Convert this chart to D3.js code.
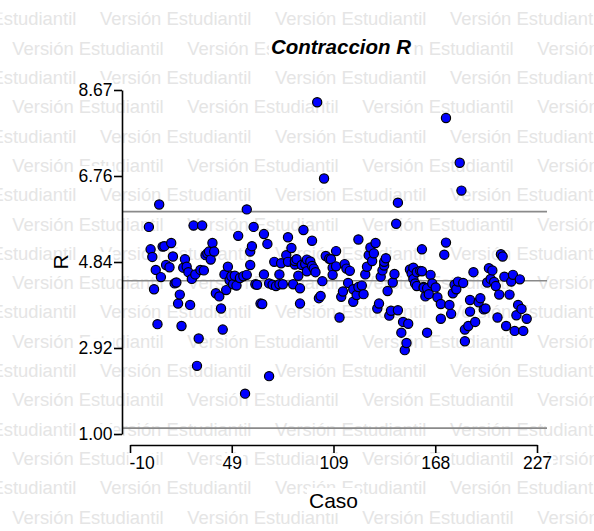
<!DOCTYPE html>
<html>
<head>
<meta charset="utf-8">
<script src="https://cdn.jsdelivr.net/npm/d3@7"></script>
<style>
  body { margin: 0; background: #fff; }
  svg { display: block; }
</style>
</head>
<body>
<svg id="chart" width="594" height="531"></svg>
<script>
// Case number for each observation
const caso = [1,2,3,4,5,6,7,8,9,10,
  11,13,14,15,16,17,18,19,20,21,
  22,23,24,25,26,27,28,29,30,31,
  32,33,34,35,36,37,38,39,40,42,
  43,44,45,46,47,48,49,50,51,52,
  53,54,56,57,58,58,60,60,61,62,
  63,64,66,67,68,68,70,71,71,73,
  74,75,77,77,78,79,81,82,82,84,
  85,86,86,87,88,89,89,90,91,92,
  93,93,95,96,96,97,98,99,100,101,
  102,103,104,106,107,108,108,110,110,112,
  113,114,115,116,117,118,120,120,122,123,
  123,125,126,127,128,129,130,131,132,133,
  134,135,136,137,138,138,139,140,141,142,
  143,144,145,146,146,148,149,150,151,152,
  153,154,155,155,156,157,157,159,160,160,
  161,161,162,163,163,164,165,166,168,169,
  171,171,173,174,174,176,177,178,179,180,
  181,182,183,184,185,185,187,188,188,190,
  191,193,194,196,197,198,199,200,201,202,
  203,204,205,206,207,208,209,211,212,213,
  214,215,216,217,218,219,221];

// R value for each observation
const r = [5.62,5.12,4.95,4.23,4.66,3.45,6.12,4.50,5.18,5.19,
  4.77,4.72,5.26,4.96,4.36,4.38,3.91,4.11,3.41,4.71,
  4.90,4.73,4.61,3.88,4.46,5.65,4.56,2.52,3.13,4.66,
  5.65,4.65,4.99,5.03,5.07,4.89,5.26,5.07,4.14,4.07,
  3.80,3.33,4.56,4.21,4.73,4.43,4.52,4.34,4.53,4.31,
  5.42,4.48,4.52,1.90,4.55,6.01,4.77,5.07,5.19,5.62,
  4.34,4.33,3.91,3.90,4.56,5.46,5.24,2.29,4.36,4.33,
  4.84,4.30,4.34,4.56,4.81,4.34,4.99,5.39,4.84,5.15,
  4.34,4.78,4.86,4.90,4.53,3.91,4.25,4.77,5.55,4.79,
  4.63,4.89,4.85,5.31,4.75,4.69,4.61,8.40,4.03,4.08,
  4.41,6.70,4.97,4.91,4.90,4.71,4.55,5.08,4.74,3.60,
  4.06,4.18,4.79,4.69,4.37,4.64,4.23,3.95,4.10,5.34,
  4.28,4.31,4.12,4.56,4.73,4.99,5.16,4.86,5.03,5.26,
  3.80,3.91,4.51,4.65,4.76,4.84,4.92,4.19,3.64,3.75,
  4.38,4.57,5.69,3.76,6.16,3.26,3.50,2.87,3.03,3.46,
  4.67,4.58,4.71,4.46,4.36,4.61,4.30,4.64,4.63,5.12,
  4.28,4.26,4.07,4.25,3.26,4.12,4.55,4.36,4.27,4.05,
  3.90,3.57,5.00,5.27,8.05,3.88,3.68,4.14,4.33,4.23,
  4.40,7.05,6.43,4.37,3.33,3.07,3.41,3.99,3.73,4.61,
  3.50,3.94,4.03,3.78,3.80,4.38,4.70,4.46,4.65,4.39,
  4.30,3.60,4.11,5.01,4.96,4.51,3.41,4.11,4.40,4.55,
  3.30,3.65,3.88,4.45,3.79,3.30,3.57];

// Control lines: upper limit, centre line, lower limit
const lineasControl = [5.96, 4.42, 1.13];

// Axis domains and their printed tick labels (4 equal intervals each)
const xDomain = [-10, 227];
const yDomain = [1, 8.674];
const xTickLabels = ["-10", "49", "109", "168", "227"];
const yTickLabels = ["1.00", "2.92", "4.84", "6.76", "8.67"];

const titulo = "Contraccion R";
const tituloX = "Caso";
const tituloY = "R";
const marcaAgua = "Versión Estudiantil";

const W = 594, H = 531;
const FONT = "'Liberation Sans', Arial, Helvetica, sans-serif";

// Plot frame
const plot = { left: 122, right: 547, top: 90, bottom: 434, xAxisY: 445, xStart: 130, xEnd: 537 };

const svg = d3.select("#chart");
svg.append("rect").attr("width", W).attr("height", H).attr("fill", "#fff");

// Repeating watermark, brick-offset rows
const wm = svg.append("g")
  .attr("fill", "#e5e5e5")
  .style("font-family", FONT)
  .style("font-size", "18.4px");
const rowH = 29.3, period = 175;
for (let i = 0; i < 19; i++) {
  const yc = 18.8 + i * rowH;
  const start = (i % 2 === 0) ? 100 : 12.3;
  for (let x = start - period; x < W; x += period) {
    wm.append("text").attr("x", x).attr("y", yc + 6.6).text(marcaAgua);
  }
}

const x = d3.scaleLinear().domain(xDomain).range([plot.xStart, plot.xEnd]);
const y = d3.scaleLinear().domain(yDomain).range([plot.bottom, plot.top]);

const splits = n => d3.range(n).map(k => k / (n - 1));
const xTicks = splits(xTickLabels.length).map(t => xDomain[0] + t * (xDomain[1] - xDomain[0]));
const yTicks = splits(yTickLabels.length).map(t => yDomain[0] + t * (yDomain[1] - yDomain[0]));

// White box behind a text node so the watermark does not show through
function boxBehind(textSel, pad) {
  textSel.each(function () {
    const b = this.getBBox();
    d3.select(this.parentNode).insert("rect", () => this)
      .attr("x", b.x - pad).attr("y", b.y - pad + 1)
      .attr("width", b.width + 2 * pad).attr("height", b.height + 2 * pad - 2)
      .attr("fill", "#fff");
  });
}

// Control lines
svg.append("g").selectAll("line")
  .data(lineasControl)
  .join("line")
  .attr("x1", plot.left).attr("x2", plot.right)
  .attr("y1", d => y(d)).attr("y2", d => y(d))
  .attr("stroke", "#8a8a8a").attr("stroke-width", 1.6);

// Y axis
const gy = svg.append("g")
  .attr("transform", `translate(${plot.left},0)`)
  .call(d3.axisLeft(y).tickValues(yTicks).tickFormat((d, i) => yTickLabels[i])
    .tickSize(8).tickSizeOuter(0).tickPadding(1.5));
// X axis
const gx = svg.append("g")
  .attr("transform", `translate(0,${plot.xAxisY})`)
  .call(d3.axisBottom(x).tickValues(xTicks).tickFormat((d, i) => xTickLabels[i])
    .tickSize(8).tickSizeOuter(0).tickPadding(4));

[gy, gx].forEach(g => {
  g.select(".domain").attr("stroke", "#000").attr("stroke-width", 1.6);
  g.selectAll(".tick line").attr("stroke", "#000").attr("stroke-width", 1.6);
  g.selectAll(".tick text").attr("fill", "#000")
    .style("font-family", FONT).style("font-size", "17.5px");
});
gx.selectAll(".tick text").filter((d, i) => i === 0).attr("text-anchor", "start").attr("x", -1);
boxBehind(gy.selectAll(".tick text"), 1);
boxBehind(gx.selectAll(".tick text"), 1);

// Points
const puntos = caso.map((c, i) => ({ c, v: r[i] }));
svg.append("g").selectAll("circle")
  .data(puntos)
  .join("circle")
  .attr("cx", d => x(d.c))
  .attr("cy", d => y(d.v))
  .attr("r", 4.6)
  .attr("fill", "#0000ff")
  .attr("stroke", "#000")
  .attr("stroke-width", 1.2);

// Titles
const gt = svg.append("g");
const tTitle = gt.append("text")
  .attr("x", 341).attr("y", 54)
  .attr("text-anchor", "middle")
  .style("font-family", FONT).style("font-size", "20.5px")
  .style("font-weight", "bold").style("font-style", "italic")
  .text(titulo);
const tX = gt.append("text")
  .attr("x", (plot.xStart + plot.xEnd) / 2).attr("y", 508)
  .attr("text-anchor", "middle")
  .style("font-family", FONT).style("font-size", "21px")
  .text(tituloX);
const tY = gt.append("text")
  .attr("transform", `translate(60,${(plot.top + plot.bottom) / 2}) rotate(-90)`)
  .attr("text-anchor", "middle")
  .attr("dy", "0.36em")
  .style("font-family", FONT).style("font-size", "21px")
  .text(tituloY);
boxBehind(tTitle, 2);
boxBehind(tX, 2);
boxBehind(tY, 2);
</script>
</body>
</html>
